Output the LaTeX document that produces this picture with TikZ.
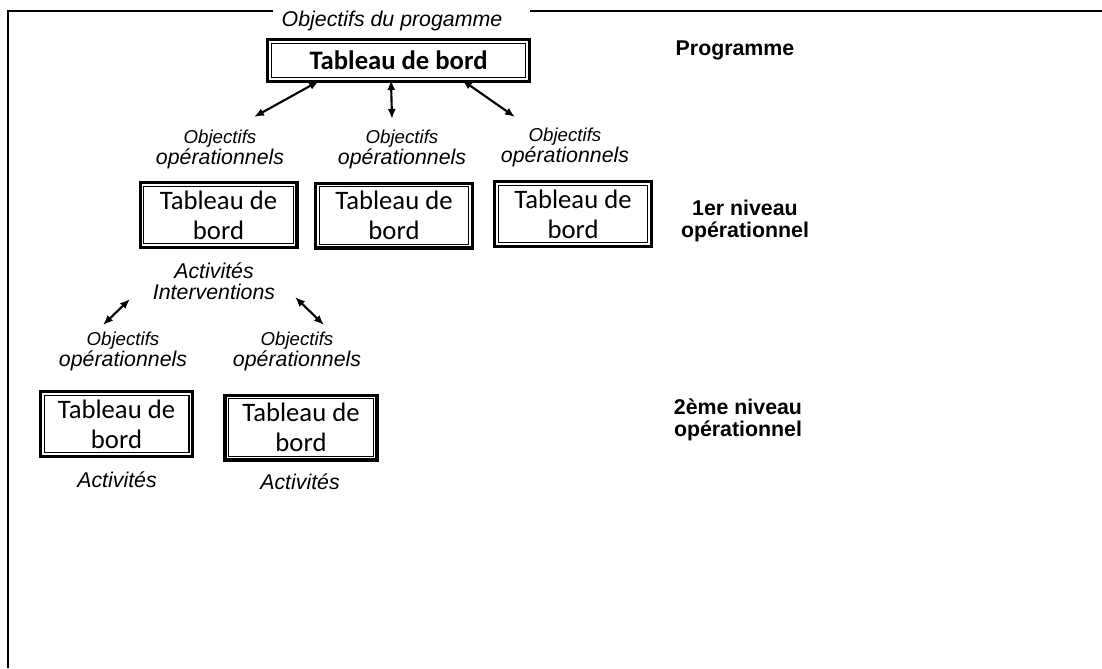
\documentclass[tikz,border=0pt]{standalone}
\usepackage{fontspec}
\setmainfont{Liberation Sans}
\newfontfamily\carlito{Carlito}
\usetikzlibrary{arrows.meta}
\newcommand{\objop}{{\fontsize{14}{15.75}\selectfont Objectifs}\\op\'erationnels}

\begin{document}
\begin{tikzpicture}[x=0.75pt,y=-0.75pt,
		tdb/.style={draw,line width=2.3pt,outer sep=0pt,inner sep=0pt,align=center,
			minimum width=117.7pt,minimum height=48.7pt,font=\carlito\fontsize{20}{22.5}\selectfont},
		lbl/.style={align=center,inner sep=0pt,font=\itshape\fontsize{16}{15.75}\selectfont},
		niv/.style={align=center,inner sep=0pt,font=\bfseries\fontsize{16}{16.5}\selectfont},
		fleche/.style={{Latex[length=7.5pt,width=6pt]}-{Latex[length=7.5pt,width=6pt]},line width=1.6pt},
		cadre/.style={line width=1.5pt}]
	\useasboundingbox (0,0) rectangle (1102,668);
	% cadre
	\draw[cadre] (273,11) -- (8,11) -- (8,668);
	\draw[cadre] (530,11) -- (1102,11);
	\node[lbl] (titre) at (392,21) {Objectifs du progamme};

	% programme
	\node[tdb,minimum width=196.4pt,minimum height=31.4pt,
		font=\carlito\bfseries\fontsize{20}{22.5}\selectfont] (prog) at (398.5,60.5) {Tableau de bord};

	% 1er niveau
	\node[tdb] (n1a) at (218.5,215) {Tableau de\\bord};
	\node[tdb] (n1b) at (394,215.5) {Tableau de\\bord};
	\node[tdb] (n1c) at (573,214) {Tableau de\\bord};
	\node[lbl] (o1a) at (220,149) {\objop};
	\node[lbl] (o1b) at (402,149) {\objop};
	\node[lbl] (o1c) at (565,147) {\objop};
	\node[lbl] (act1) at (214,281) {Activit\'es\\Interventions};

	% 2eme niveau
	\node[tdb,minimum width=114pt] (n2a) at (116.5,424) {Tableau de\\bord};
	\node[tdb,minimum width=114pt] (n2b) at (301,427.5) {Tableau de\\bord};
	\node[lbl] (o2a) at (123,351) {\objop};
	\node[lbl] (o2b) at (297,351) {\objop};
	\node[lbl] (act2a) at (117,480) {Activit\'es};
	\node[lbl] (act2b) at (300,482) {Activit\'es};

	% filet interieur des cadres doubles
	\foreach \n in {prog,n1a,n1b,n1c,n2a,n2b}
		\draw[line width=0.9pt] ([xshift=2.7pt,yshift=-2.7pt]\n.north west) rectangle ([xshift=-2.7pt,yshift=2.7pt]\n.south east);

	% niveaux
	\node[niv] (niv0) at (735,50) {Programme};
	\node[niv] (niv1) at (745,221) {1er niveau\\op\'erationnel};
	\node[niv] (niv2) at (738,420) {2\`eme niveau\\op\'erationnel};

	% fleches
	\coordinate (f1) at (319,81);
	\coordinate (g1) at (254,117);
	\coordinate (f2) at (391,80);
	\coordinate (g2) at (392,119);
	\coordinate (f3) at (462,80);
	\coordinate (g3) at (515,117);
	\coordinate (f4) at (130,299);
	\coordinate (g4) at (103,325);
	\coordinate (f5) at (295,297);
	\coordinate (g5) at (324,325);
	\foreach \i in {1,...,5}
		\draw[fleche] (f\i) -- (g\i);
\end{tikzpicture}
\end{document}
